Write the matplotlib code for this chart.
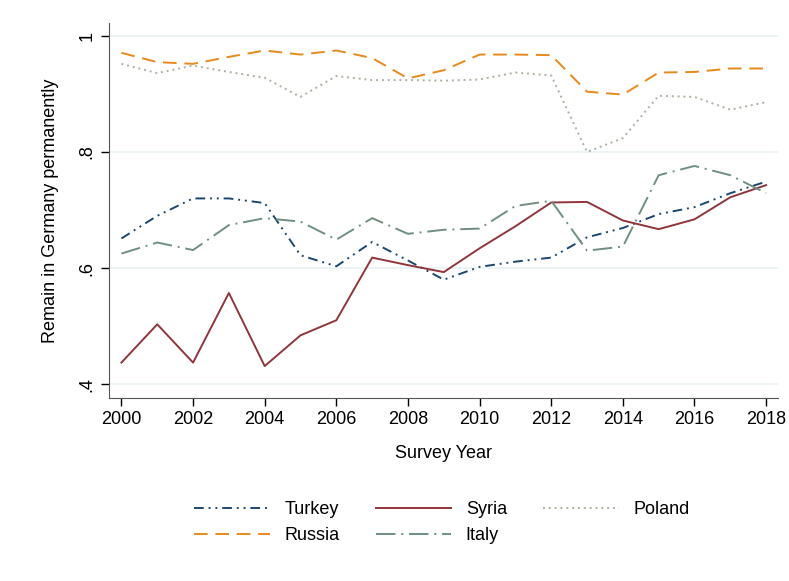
import numpy as np
import matplotlib.pyplot as plt

plt.rcParams["font.family"] = ["Liberation Sans", "DejaVu Sans"]

# data
years = list(range(2000, 2019))
turkey = [0.651, 0.690, 0.720, 0.720, 0.712, 0.622, 0.603, 0.645, 0.613, 0.580,
          0.602, 0.611, 0.618, 0.653, 0.669, 0.693, 0.705, 0.729, 0.749]
syria = [0.437, 0.503, 0.437, 0.557, 0.431, 0.484, 0.510, 0.618, 0.605, 0.593,
         0.634, 0.672, 0.713, 0.714, 0.682, 0.667, 0.684, 0.722, 0.743]
poland = [0.952, 0.936, 0.949, 0.938, 0.928, 0.895, 0.931, 0.924, 0.924, 0.923,
          0.925, 0.937, 0.932, 0.800, 0.824, 0.897, 0.895, 0.873, 0.886]
russia = [0.971, 0.955, 0.952, 0.964, 0.975, 0.968, 0.975, 0.962, 0.927, 0.941,
          0.968, 0.968, 0.967, 0.904, 0.899, 0.937, 0.938, 0.944, 0.944]
italy = [0.625, 0.644, 0.631, 0.674, 0.686, 0.680, 0.649, 0.686, 0.659, 0.666,
         0.668, 0.707, 0.716, 0.630, 0.637, 0.760, 0.776, 0.760, 0.729]

fig = plt.figure(figsize=(7.89, 5.81), dpi=100)
ax = fig.add_axes([0.138, 0.315, 0.848, 0.645])

lw = 1.4
ax.plot(years, turkey, color="#1a476f", lw=lw, dashes=(5, 2.5, 1, 2.5, 1, 2.5), label="Turkey")
ax.plot(years, russia, color="#e8891d", lw=lw, dashes=(7, 4), label="Russia")
ax.plot(years, syria, color="#90353b", lw=lw, label="Syria")
ax.plot(years, italy, color="#6f9080", lw=lw, dashes=(10, 3, 1, 3), label="Italy")
ax.plot(years, poland, color="#a9b39d", lw=lw, dashes=(1, 2), label="Poland")

ax.set_xlim(1999.65, 2018.33)
ax.set_ylim(0.376, 1.022)
ax.set_xticks(range(2000, 2019, 2))
ax.set_yticks([0.4, 0.6, 0.8, 1.0])
ax.set_yticklabels([".4", ".6", ".8", "1"], rotation=90, va="center")
ax.tick_params(labelsize=13, length=6, width=1)
ax.yaxis.grid(True, color="#eaf2f3", lw=1.2)
ax.set_axisbelow(True)
for s in ["top", "right"]:
    ax.spines[s].set_visible(False)
ax.spines["left"].set_color("#555555")
ax.spines["bottom"].set_color("#555555")

ax.set_xlabel("Survey Year", fontsize=13, labelpad=12)
ax.set_ylabel("Remain in Germany permanently", fontsize=13, labelpad=14)

handles, labels = ax.get_legend_handles_labels()
fig.legend(handles, labels, ncol=3,
           loc="center", bbox_to_anchor=(0.56, 0.1), frameon=False,
           fontsize=13, handlelength=4.2, columnspacing=2.0, labelspacing=0.5,
           handletextpad=0.8)

fig.savefig("out.png", dpi=100)
